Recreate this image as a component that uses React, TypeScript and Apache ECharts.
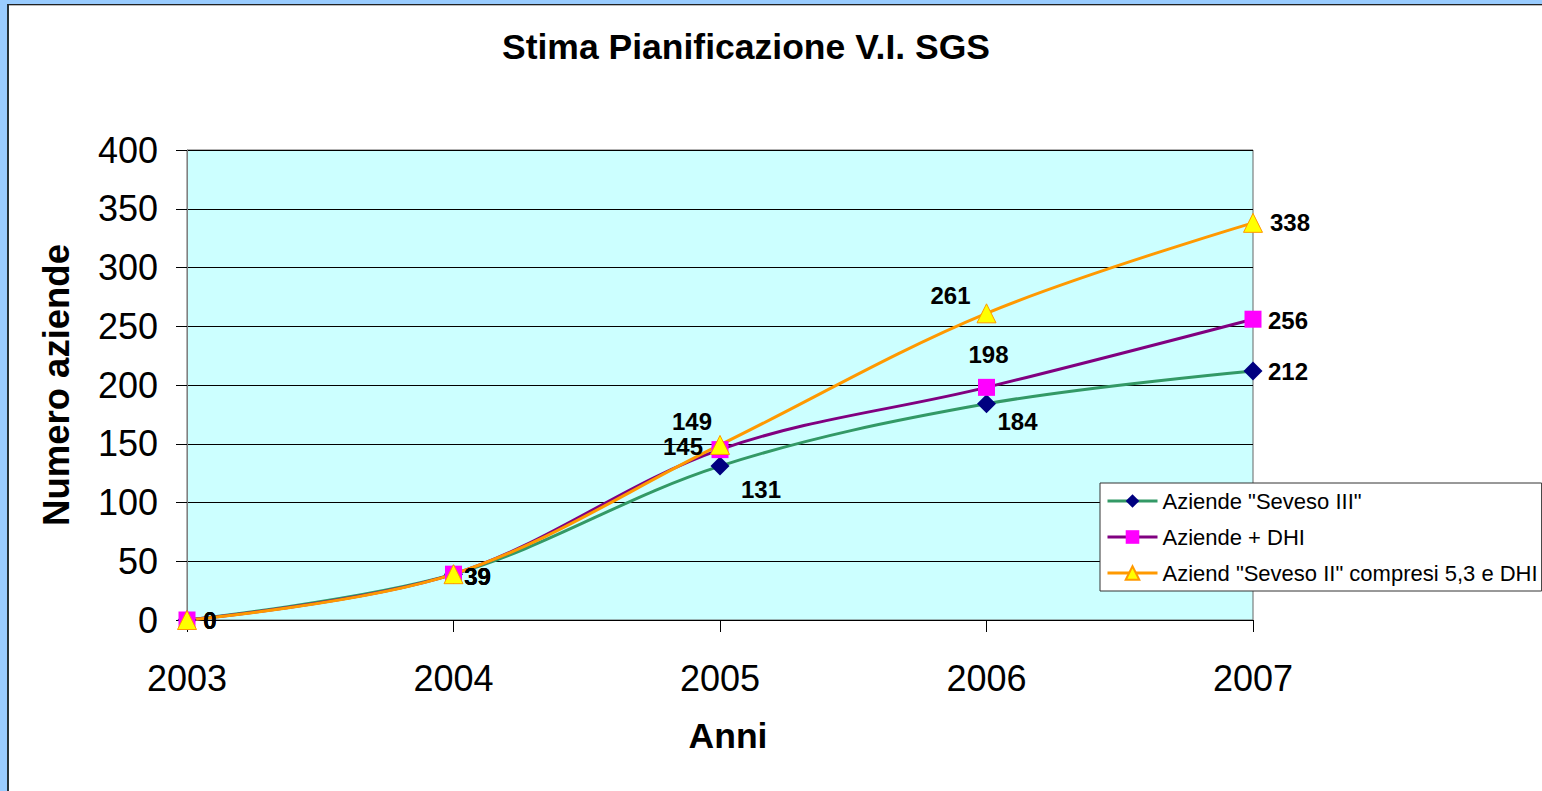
import React, { useEffect, useRef } from "react";
import * as echarts from "echarts";

const years = ["2003", "2004", "2005", "2006", "2007"];
const sevesoIII = [0, 39, 131, 184, 212];
const aziendeDHI = [0, 39, 145, 198, 256];
const sevesoII = [0, 39, 149, 261, 338];
const seriesNames = [
  'Aziende "Seveso III"',
  "Aziende + DHI",
  'Aziend "Seveso II" compresi 5,3 e DHI',
];

const FONT = "'Liberation Sans', Arial, sans-serif";

// label offsets (pixels from point), style only
const offsIII = [[23, 0], [24, 2], [41, 23], [31, 18], [35, 1]];
const offsDHI = [[23, 0], [24, 2], [-37, -3], [2, -33], [35, 1]];
const offsII = [[23, 0], [24, 2], [-28, -23], [-36, -18], [37, 0]];

function withLabels(values: number[], offs: number[][]) {
  return values.map((v, i) => ({
    value: v,
    label: {
      show: true,
      position: "inside",
      offset: offs[i],
      align: "center",
      verticalAlign: "middle",
      fontSize: 24,
      fontWeight: "bold",
      color: "#000",
      fontFamily: FONT,
    },
  }));
}

export default function App() {
  const ref = useRef<HTMLDivElement>(null);
  useEffect(() => {
    if (!ref.current) return;
    const chart = echarts.init(ref.current, undefined, { renderer: "svg" });
    chart.setOption({
      animation: false,
      title: {
        text: "Stima Pianificazione V.I. SGS",
        left: 497,
        top: 24,
        textStyle: { fontSize: 35.5, fontWeight: "bold", color: "#000", fontFamily: FONT },
      },
      legend: {
        orient: "vertical",
        left: 1100,
        top: 483,
        itemWidth: 50,
        itemHeight: 17,
        itemGap: 14,
        padding: [7, 4, 7, 6],
        backgroundColor: "#fff",
        borderColor: "#333",
        borderWidth: 1,
        lineStyle: { width: 3 },
        textStyle: { fontSize: 22, color: "#000", fontFamily: FONT },
        data: seriesNames,
      },
      grid: {
        left: 187,
        top: 150,
        right: 289,
        bottom: 171,
        show: true,
        backgroundColor: "#ccffff",
        borderColor: "#666",
        borderWidth: 1,
      },
      xAxis: {
        type: "category",
        data: years,
        boundaryGap: false,
        name: "Anni",
        nameLocation: "middle",
        nameGap: 98,
        nameTextStyle: {
          fontSize: 35.5,
          fontWeight: "bold",
          color: "#000",
          fontFamily: FONT,
          padding: [0, 0, 0, 16],
        },
        axisLine: { lineStyle: { color: "#000", width: 1 } },
        axisTick: { show: true, length: 12, lineStyle: { color: "#000" }, alignWithLabel: true },
        axisLabel: { fontSize: 36, color: "#000", margin: 40, fontFamily: FONT },
        splitLine: { show: false },
      },
      yAxis: {
        type: "value",
        min: 0,
        max: 400,
        interval: 50,
        name: "Numero aziende",
        nameLocation: "middle",
        nameGap: 112,
        nameTextStyle: { fontSize: 36.5, fontWeight: "bold", color: "#000", fontFamily: FONT },
        axisLine: { show: true, lineStyle: { color: "#808080", width: 1 } },
        axisTick: { show: true, length: 11, lineStyle: { color: "#000" } },
        axisLabel: { fontSize: 36, color: "#000", margin: 29, fontFamily: FONT },
        splitLine: { show: true, lineStyle: { color: "#000", width: 1 } },
      },
      series: [
        {
          name: seriesNames[0],
          type: "line",
          smooth: 0.35,
          data: withLabels(sevesoIII, offsIII),
          symbol: "diamond",
          symbolSize: 19,
          lineStyle: { color: "#339966", width: 3 },
          itemStyle: { color: "#000080", borderWidth: 0 },
        },
        {
          name: seriesNames[1],
          type: "line",
          smooth: 0.35,
          data: withLabels(aziendeDHI, offsDHI),
          symbol: "rect",
          symbolSize: 17,
          lineStyle: { color: "#800080", width: 3 },
          itemStyle: { color: "#ff00ff", borderWidth: 0 },
        },
        {
          name: seriesNames[2],
          type: "line",
          smooth: 0.35,
          data: withLabels(sevesoII, offsII),
          symbol: "triangle",
          symbolSize: 19,
          lineStyle: { color: "#ff9900", width: 3 },
          itemStyle: { color: "#ffff00", borderColor: "#ff9900", borderWidth: 1 },
        },
      ],
    });
    return () => chart.dispose();
  }, []);

  return (
    <div style={{ position: "fixed", left: 0, top: 0, width: 1542, height: 791, background: "#99ccff", overflow: "hidden" }}>
      <div
        style={{
          position: "absolute",
          left: 7,
          top: 4,
          right: 0,
          bottom: 0,
          background: "#fff",
          borderLeft: "2px solid #263238",
          borderTop: "1px solid #222",
          boxShadow: "inset 0 1px 0 #bbb",
        }}
      />
      <div ref={ref} style={{ position: "absolute", left: 0, top: 0, width: 1542, height: 791 }} />
    </div>
  );
}
